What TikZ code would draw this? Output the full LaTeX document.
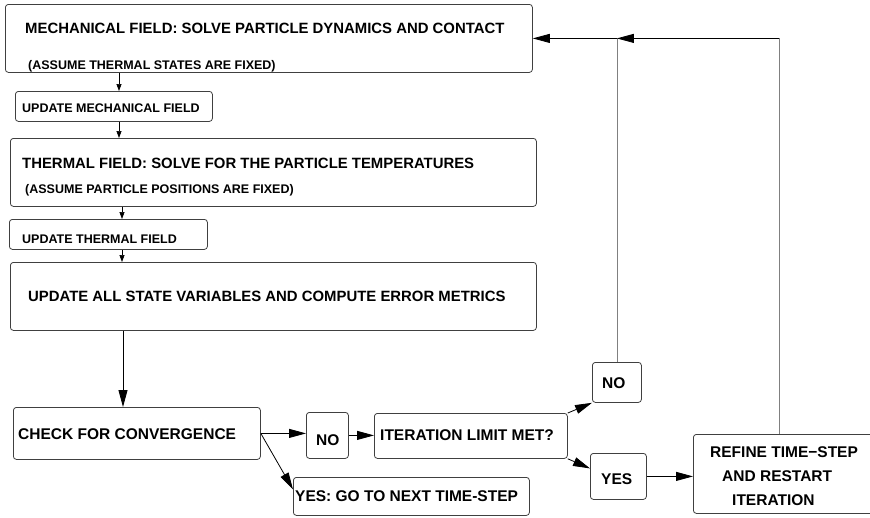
\documentclass[tikz,border=0pt]{standalone}
\usepackage{fontspec}
\setmainfont{Liberation Sans}
\usetikzlibrary{arrows.meta}
\tikzstyle{box}=[draw=black!75, line width=0.8pt, rounded corners=3pt, inner sep=0pt, anchor=north west]
\tikzstyle{fieldtxt}=[anchor=base west, inner sep=0pt, font=\fontsize{14.9}{18}\selectfont\bfseries]
\tikzstyle{notetxt}=[anchor=base west, inner sep=0pt, font=\fontsize{12.5}{15}\selectfont\bfseries]
\tikzstyle{steptxt}=[anchor=base west, inner sep=0pt, font=\fontsize{15.5}{19}\selectfont\bfseries]
\tikzstyle{small>}=[-{Triangle[length=7pt,width=5pt]}, line width=0.7pt]
\tikzstyle{big>}=[-{Triangle[length=17pt,width=9pt]}, line width=0.8pt]
\tikzstyle{back}=[draw=black!50, line width=0.8pt]

\begin{document}
\begin{tikzpicture}[x=1pt,y=-1pt]
\useasboundingbox (0,0) rectangle (870,517);
\node[box, minimum width=527pt, minimum height=68pt] (mech) at (5,4) {};
\node[fieldtxt] (mechA) at (25,33) {MECHANICAL FIELD: SOLVE PARTICLE DYNAMICS AND CONTACT};
\node[notetxt] (mechB) at (28,69.5) {(ASSUME THERMAL STATES ARE FIXED)};
\node[box, minimum width=197pt, minimum height=30pt] (updM) at (15,91) {};
\node[notetxt] (updMA) at (22,112.5) {UPDATE MECHANICAL FIELD};
\node[box, minimum width=526pt, minimum height=68pt] (therm) at (10,138) {};
\node[fieldtxt] (thermA) at (22,168) {THERMAL FIELD: SOLVE FOR THE PARTICLE TEMPERATURES};
\node[notetxt] (thermB) at (25,193) {(ASSUME PARTICLE POSITIONS ARE FIXED)};
\node[box, minimum width=198pt, minimum height=30pt] (updT) at (9,219) {};
\node[notetxt] (updTA) at (22,243) {UPDATE THERMAL FIELD};
\node[box, minimum width=526pt, minimum height=68pt] (state) at (10,262) {};
\node[fieldtxt] (stateA) at (28,301) {UPDATE ALL STATE VARIABLES AND COMPUTE ERROR METRICS};
\node[box, minimum width=247pt, minimum height=52pt] (check) at (13,407) {};
\node[steptxt] (checkA) at (18,439) {CHECK FOR CONVERGENCE};
\node[box, minimum width=42pt, minimum height=46pt] (no1) at (306,412) {};
\node[steptxt] (no1A) at (316,445) {NO};
\node[box, minimum width=193pt, minimum height=45pt] (iter) at (374,413) {};
\node[steptxt] (iterA) at (380,440) {ITERATION LIMIT MET?};
\node[box, minimum width=236pt, minimum height=38pt] (next) at (293,477) {};
\node[steptxt] (nextA) at (295,501) {YES: GO TO NEXT TIME-STEP};
\node[box, minimum width=49pt, minimum height=40pt] (no2) at (592,362) {};
\node[steptxt] (no2A) at (602,388) {NO};
\node[box, minimum width=56pt, minimum height=46pt] (yes2) at (590,453) {};
\node[steptxt] (yes2A) at (601,484) {YES};
\node[box, minimum width=194pt, minimum height=79pt] (refine) at (693,434) {};
\node[steptxt] (refineA) at (710,457) {REFINE TIME−STEP};
\node[steptxt] (refineB) at (722,481) {AND RESTART};
\node[steptxt] (refineC) at (732,505) {ITERATION};

\coordinate (colA) at (119,0);
\coordinate (colB) at (122,0);
\coordinate (colC) at (123,0);
\draw[small>] (mech.south -| colA) -- (updM.north -| colA);
\draw[small>] (updM.south -| colA) -- (therm.north -| colA);
\draw[small>] (therm.south -| colB) -- (updT.north -| colB);
\draw[small>] (updT.south -| colB) -- (state.north -| colB);
\draw[big>] (state.south -| colC) -- (check.north -| colC);
\draw[big>] (check.east) -- (check.east -| no1.west);
\draw[big>] (no1.east) -- (no1.east -| iter.west);
\draw[big>] (check.east) -- ([yshift=7pt]next.west);
\draw[big>] (iter.north east) -- (no2.south west);
\draw[big>] (iter.south east) -- ([yshift=8pt]yes2.west);
\draw[big>] (yes2.east) -- (yes2.east -| refine.west);
\coordinate (bendA) at (no2.north |- mech.east);
\coordinate (bendB) at ([xshift=-11pt]refine.north |- mech.east);
\draw[back] (no2.north) -- (bendA);
\draw[big>] (bendA) -- (mech.east);
\draw[back] ([xshift=-11pt]refine.north) -- (bendB);
\draw[big>] (bendB) -- (bendA);
\end{tikzpicture}
\end{document}
